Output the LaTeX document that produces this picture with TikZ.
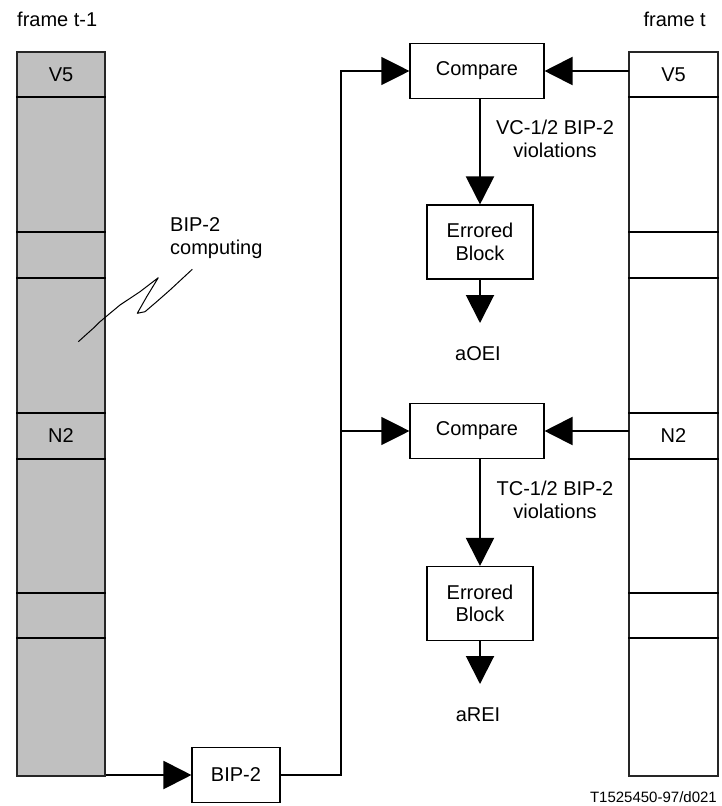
\documentclass[tikz,border=0pt]{standalone}
\usepackage{fontspec}
\setmainfont{Liberation Sans}
\usetikzlibrary{arrows.meta}
\definecolor{framegray}{RGB}{192,192,192}

\tikzset{
  col/.style={draw=black!85,line width=1.1pt,inner sep=0pt,minimum height=724pt},
  sep/.style={line width=2pt},
  cell/.style={inner sep=0pt,minimum height=45pt},
  box/.style={draw,line width=1.1pt,inner sep=0pt,align=center},
  flow/.style={line width=2pt,-{Triangle[length=28pt,width=28pt]}},
  bus/.style={line width=1.1pt,-{Triangle[length=28pt,width=28pt]}},
  tag/.style={inner sep=0pt,align=center}
}

\begin{document}
\begin{tikzpicture}[x=1pt,y=-1pt,font=\fontsize{20}{22.5}\selectfont]
   \useasboundingbox (0,0) rectangle (722,806);
   \node[anchor=base west,inner sep=0pt] (lblL) at (17,26) {frame t-1};
   \node[anchor=base east,inner sep=0pt] (lblR) at (706,26) {frame t};
   \node[col,fill=framegray,minimum width=88pt] (colL) at (61,414) {};
   \node[col,minimum width=89pt] (colR) at (673.5,414) {};
   \foreach \y in {97,232,278,413,459,593,638} {
    \draw[sep] (colL.west |- 0,\y) -- (colL.east |- 0,\y);
    \draw[sep] (colR.west |- 0,\y) -- (colR.east |- 0,\y);
   }
   \node[cell,minimum width=88pt] (lV5) at (61,74.5) {V5};
   \node[cell,minimum width=88pt] (lN2) at (61,436) {N2};
   \node[cell,minimum width=89pt] (rV5) at (673.5,74.5) {V5};
   \node[cell,minimum width=89pt] (rN2) at (673.5,436) {N2};
   \node[box,minimum width=134pt,minimum height=55pt] (cmpA) at (477,71) {Compare};
   \node[box,minimum width=106pt,minimum height=74pt] (errA) at (480,242) {Errored\\Block};
   \node[box,minimum width=134pt,minimum height=55pt] (cmpB) at (477,431) {Compare};
   \node[box,minimum width=106pt,minimum height=74pt] (errB) at (480,603.5) {Errored\\Block};
   \node[box,minimum width=88pt,minimum height=55pt] (bip) at (236,775) {BIP-2};
   \node[tag] (violA) at (555,139) {VC-1/2 BIP-2\\violations};
   \node[tag] (violB) at (555,500) {TC-1/2 BIP-2\\violations};
   \node[anchor=base,inner sep=0pt] (oei) at (478,360) {aOEI};
   \node[anchor=base,inner sep=0pt] (rei) at (478,721) {aREI};
   \node[tag,anchor=west,align=left] (comp) at (170,238) {BIP-2\\computing};
   \node[anchor=base east,inner sep=0pt,font=\fontsize{15}{18}\selectfont] (code) at (717,802) {T1525450-97/d021};
   \coordinate (busX) at (341,0);
   \coordinate (tipA) at (480,323);
   \coordinate (tipB) at (480,684);
   \draw[flow] (cmpA.east -| rV5.west) -- (cmpA.east);
   \draw[flow] (cmpB.east -| rN2.west) -- (cmpB.east);
   \draw[flow] (errA.north |- cmpA.south) -- (errA.north);
   \draw[flow] (errB.north |- cmpB.south) -- (errB.north);
   \draw[flow] (errA.south) -- (tipA);
   \draw[flow] (errB.south) -- (tipB);
   \draw[flow] (bip.west -| colL.east) -- (bip.west);
   \draw[bus] (bip.east) -| (busX |- cmpA.west) -- (cmpA.west);
   \draw[bus] (busX |- cmpB.west) -- (cmpB.west);
   \draw[line width=1pt,line join=round]
    (78.3,341.7) -- (95,326.7) -- (100,321.7) -- (110,313.3) -- (120,305)
    -- (140,291.7) -- (158.3,277.7) -- (146.7,296.7) -- (137.3,313.3)
    -- (145,311.7) -- (156.7,301.7) -- (170,290) -- (192.3,269.3);
  \end{tikzpicture}
\end{document}
